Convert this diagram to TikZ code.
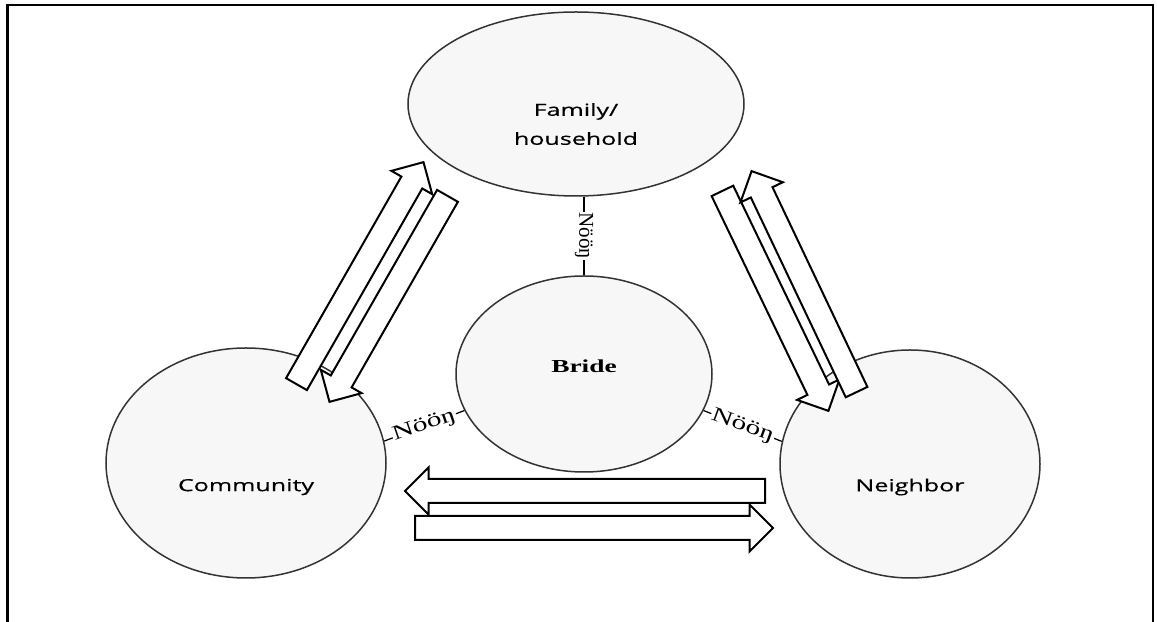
\documentclass[tikz,border=0pt]{standalone}
\usepackage{fontspec}
\usepackage{tikz}
\usetikzlibrary{calc,shapes}
\newfontfamily\circlefont[FakeStretch=1.5,FakeBold=0.4]{Open Sans}
\newfontfamily\bridefont[FakeStretch=1.5]{Liberation Serif}
\newfontfamily\tiefont{Liberation Serif}
\newfontfamily\widetiefont[FakeStretch=1.45]{Liberation Serif}
\tikzstyle{frameline}=[draw=black,line width=0.5mm]
\tikzstyle{circlenode}=[ellipse,draw=black!80,fill=black!3,line width=0.3mm,inner sep=0pt]
\tikzstyle{circlelabel}=[align=center,font=\circlefont\fontsize{9.5}{16.5}\selectfont]
\tikzstyle{bridelabel}=[font=\bridefont\bfseries\fontsize{10.4}{12}\selectfont]
\tikzstyle{flowarrow}=[single arrow,draw=black,fill=white,line width=0.4mm,
                       inner xsep=0pt,inner ysep=2.2mm,single arrow head extend=2.3mm,
                       single arrow tip angle=90,anchor=tail]
\tikzstyle{tieline}=[draw=black,line width=0.25mm]
\tikzstyle{tielabel}=[fill=white,inner sep=0.5pt,font=\tiefont\fontsize{12}{12}\selectfont]
\tikzstyle{widetielabel}=[tielabel,font=\widetiefont\fontsize{11.6}{12}\selectfont]
\newcommand\flowarrow[3]{
	\path let \p1=($(#2)-(#1)$), \n1={veclen(\x1,\y1)}, \n2={atan2(\y1,\x1)} in
		node [flowarrow,minimum height=\n1,rotate=\n2] (#3) at (#1) {};
}

\begin{document}
\begin{tikzpicture}[x=0.2mm,y=-0.2mm]
	\useasboundingbox (0,0) rectangle (1157,622);
	\fill [white] (0,0) rectangle (1157,622);
	\draw [frameline] (7.5,622) -- (7.5,5) -- (1153,5) -- (1153,622);

	\node [circlenode,minimum width=67.2mm,minimum height=36.8mm,
		label={[circlelabel,yshift=-4mm]center:Family/\\household}] (family) at ($(576,104)$) {};
	\node [circlenode,minimum width=51.2mm,minimum height=39.2mm,
		label={[bridelabel,yshift=1.6mm]center:Bride}] (bride) at ($(584,374)$) {};
	\node [circlenode,minimum width=56mm,minimum height=46mm,
		label={[circlelabel,yshift=-4.8mm]center:Community}] (community) at ($(246,463)$) {};
	\node [circlenode,minimum width=52mm,minimum height=45.6mm,
		label={[circlelabel,yshift=-4.6mm]center:Neighbor}] (neighbor) at ($(910,464)$) {};

	\draw [tieline] (bride.north |- family.south) -- node [tielabel,rotate=-90] {Nööŋ} (bride.north);
	\draw [tieline] (community.9) -- node [widetielabel,rotate=19] {Nööŋ} (bride.197);
	\draw [tieline] (bride.343) -- node [widetielabel,rotate=-20] {Nööŋ} (neighbor.170);

	\coordinate (comup) at (296,385);
	\coordinate (famdown) at (423,163);
	\coordinate (famup) at (448,195);
	\coordinate (comdown) at (330,401);
	\coordinate (famright) at (722,190);
	\coordinate (neiup) at (828,410);
	\coordinate (neidown) at (857,393);
	\coordinate (famleft) at (752,172);
	\coordinate (neileft) at (766,491);
	\coordinate (comright) at (406,491);
	\coordinate (comleft) at (414,528);
	\coordinate (neiright) at (772,528);

	\flowarrow{comup}{famdown}{comtofam}
	\flowarrow{famup}{comdown}{famtocom}
	\flowarrow{famright}{neiup}{famtonei}
	\flowarrow{neidown}{famleft}{neitofam}
	\flowarrow{neileft}{comright}{neitocom}
	\flowarrow{comleft}{neiright}{comtonei}
\end{tikzpicture}
\end{document}
